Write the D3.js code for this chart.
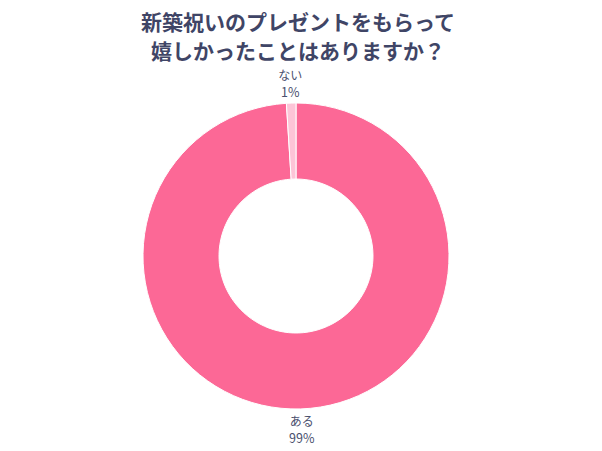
<!DOCTYPE html>
<html lang="ja">
<head>
    <meta charset="UTF-8">
    <title>新築祝いのプレゼント</title>
    <script src="https://cdnjs.cloudflare.com/ajax/libs/d3/7.8.5/d3.min.js"></script>
    <style>
        body { margin: 0; background: #fff; }
        text { font-family: "Noto Sans CJK JP", "Noto Sans", sans-serif; }
    </style>
</head>
<body>

<script>
    var width = 602,
        height = 451;

    // data
    var categories = ["ある", "ない"];
    var values = [99, 1];
    var colors = ["#fc6896", "#fdc4d7"];
    var titleLines = ["新築祝いのプレゼントをもらって", "嬉しかったことはありますか？"];

    var cx = 296, cy = 256,
        outerR = 153, innerR = 77;

    var svg = d3.select("body").append("svg")
            .attr("width", width)
            .attr("height", height);

    // title
    svg.selectAll("text.title").data(titleLines)
            .enter().append("text")
            .attr("class", "title")
            .attr("x", 298)
            .attr("y", function (d, i) { return 30 + i * 29; })
            .attr("text-anchor", "middle")
            .attr("font-size", 21)
            .attr("font-weight", "bold")
            .attr("fill", "#3f4566")
            .text(function (d) { return d; });

    var pie = d3.pie().sort(null).value(function (d) { return d; });
    var arcs = pie(values);

    var arc = d3.arc().innerRadius(innerR).outerRadius(outerR);

    var g = svg.append("g").attr("transform", "translate(" + cx + "," + cy + ")");

    g.selectAll("path.slice").data(arcs)
            .enter().append("path")
            .attr("class", "slice")
            .attr("d", arc)
            .attr("fill", function (d, i) { return colors[i]; })
            .attr("stroke", "#fff")
            .attr("stroke-width", 1);

    //labels sit just outside the ring, on the middle angle of each slice
    var labelArc = d3.arc().innerRadius(outerR + 30).outerRadius(outerR + 30);

    var labels = g.selectAll("g.label").data(arcs)
            .enter().append("g")
            .attr("class", "label")
            .attr("transform", function (d, i) {
                var p = labelArc.centroid(d);
                // two-line label: push the top one down, bottom one up
                var dy = p[1] > 0 ? -13 : 7;
                return "translate(" + p[0] + "," + (p[1] + dy) + ")";
            });

    labels.append("text")
            .attr("text-anchor", "middle")
            .attr("font-size", 12)
            .attr("fill", "#4a506e")
            .text(function (d, i) { return categories[i]; });

    labels.append("text")
            .attr("text-anchor", "middle")
            .attr("y", 17)
            .attr("font-size", 12.5)
            .attr("fill", "#4a506e")
            .text(function (d, i) { return values[i] + "%"; });
</script>

</body>
</html>
